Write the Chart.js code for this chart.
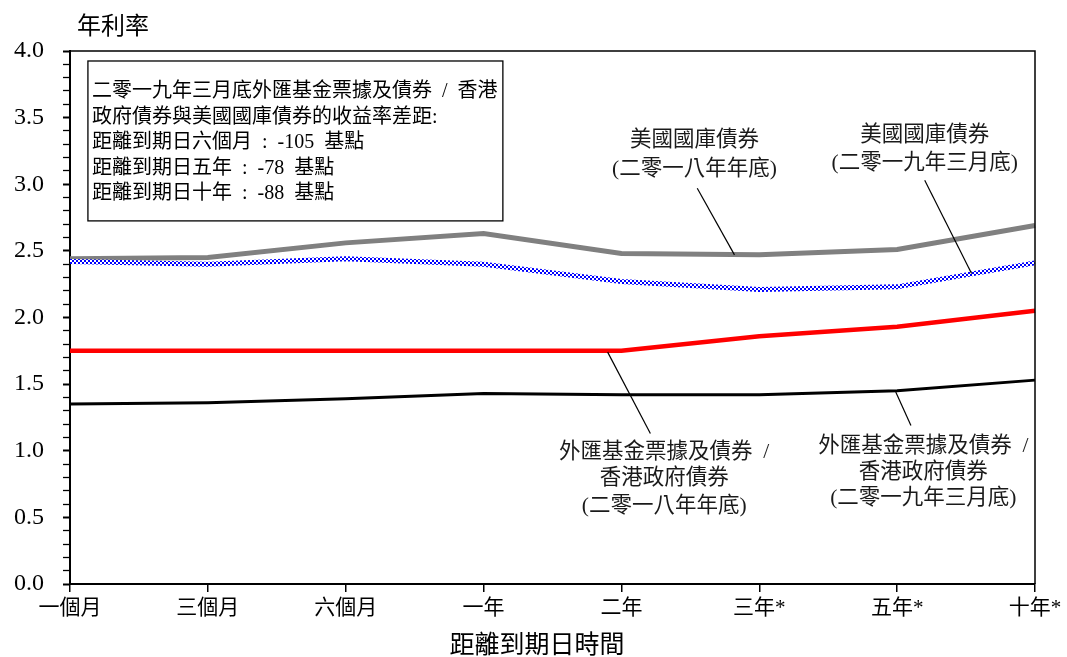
<!DOCTYPE html>
<html>
<head>
<meta charset="utf-8">
<script src="https://cdn.jsdelivr.net/npm/chart.js@4/dist/chart.umd.min.js"></script>
<style>
  html, body { margin: 0; padding: 0; background: #fff; }
  #wrap { width: 1067px; height: 657px; }
</style>
</head>
<body>
<div id="wrap"><canvas id="c" width="1067" height="657"></canvas></div>
<script>
// 距離到期日時間
const maturities = ['一個月', '三個月', '六個月', '一年', '二年', '三年*', '五年*', '十年*'];

// 年利率 (%)
const ust2018 = [2.44, 2.45, 2.56, 2.63, 2.48, 2.47, 2.51, 2.69];
const ust2019 = [2.42, 2.40, 2.44, 2.40, 2.27, 2.21, 2.23, 2.41];
const efb2018 = [1.75, 1.75, 1.75, 1.75, 1.75, 1.86, 1.93, 2.05];
const efb2019 = [1.35, 1.36, 1.39, 1.43, 1.42, 1.42, 1.45, 1.53];

const boxLines = [
  '二零一九年三月底外匯基金票據及債券  /  香港',
  '政府債券與美國國庫債券的收益率差距:',
  '距離到期日六個月  :  -105  基點',
  '距離到期日五年  :  -78  基點',
  '距離到期日十年  :  -88  基點',
];

const FONT = '"Liberation Serif", "Noto Sans CJK TC", serif';

// 藍白格子線 (美國國庫債券 二零一九年三月底)
function checker() {
  const c = document.createElement('canvas');
  c.width = 4; c.height = 4;
  const g = c.getContext('2d');
  g.fillStyle = '#fff'; g.fillRect(0, 0, 4, 4);
  g.fillStyle = '#0000ff';
  g.fillRect(0, 0, 2, 2); g.fillRect(2, 2, 2, 2);
  return g.createPattern(c, 'repeat');
}

// 標註: 文字位置及引線, 以 (類別索引, 數值) 表示
const notes = [
  { x: 4.53, lines: [['美國國庫債券', 3.33], ['(二零一八年年底)', 3.11]], from: [4.55, 2.97], to: [4.82, 2.47] },
  { x: 6.20, lines: [['美國國庫債券', 3.37], ['(二零一九年三月底)', 3.16]], from: [6.20, 3.03], to: [6.54, 2.33] },
  { x: 4.31, lines: [['外匯基金票據及債券  /', 0.99], ['香港政府債券', 0.795], ['(二零一八年年底)', 0.585]], from: [3.90, 1.74], to: [4.21, 1.13] },
  { x: 6.19, lines: [['外匯基金票據及債券  /', 1.03], ['香港政府債券', 0.835], ['(二零一九年三月底)', 0.64]], from: [5.99, 1.44], to: [6.10, 1.19] },
];

const decor = {
  id: 'decor',
  afterDatasetsDraw(chart) {
    const { ctx, chartArea: a, scales: { x, y } } = chart;
    const px = (i, v) => [x.getPixelForValue(i), y.getPixelForValue(v)];
    ctx.save();
    // 上框及右框
    ctx.strokeStyle = '#000';
    ctx.lineWidth = 1.5;
    ctx.beginPath();
    ctx.moveTo(a.left, a.top); ctx.lineTo(a.right, a.top); ctx.lineTo(a.right, a.bottom);
    ctx.stroke();

    // 說明框
    const [bx0, by0] = px(0.13, 3.925);
    const [bx1, by1] = px(3.14, 2.725);
    ctx.lineWidth = 1.3;
    ctx.strokeRect(bx0, by0, bx1 - bx0, by1 - by0);
    ctx.fillStyle = '#000';
    ctx.font = '20px ' + FONT;
    ctx.textAlign = 'left';
    ctx.textBaseline = 'middle';
    boxLines.forEach((t, i) => ctx.fillText(t, bx0 + 4, by0 + 31 + i * 25.5));

    // 系列標註
    ctx.fillStyle = '#1a1a1a';
    ctx.font = '21.5px ' + FONT;
    ctx.textAlign = 'center';
    ctx.lineWidth = 1.2;
    notes.forEach(n => {
      n.lines.forEach(([t, v]) => {
        ctx.fillText(t, x.getPixelForValue(n.x), y.getPixelForValue(v));
      });
      const [x0, y0] = px(n.from[0], n.from[1]);
      const [x1, y1] = px(n.to[0], n.to[1]);
      ctx.beginPath(); ctx.moveTo(x0, y0); ctx.lineTo(x1, y1); ctx.stroke();
    });

    // 軸標題
    ctx.fillStyle = '#000';
    ctx.font = '24px ' + FONT;
    ctx.textAlign = 'left';
    ctx.fillText('年利率', 77, 28);
    ctx.font = '25px ' + FONT;
    ctx.textAlign = 'center';
    ctx.fillText('距離到期日時間', 537, 646);
    ctx.restore();
  }
};

new Chart(document.getElementById('c'), {
  type: 'line',
  data: {
    labels: maturities,
    datasets: [
      { label: '美國國庫債券 (二零一九年三月底)', data: ust2019, borderColor: checker(), borderWidth: 5 },
      { label: '美國國庫債券 (二零一八年年底)', data: ust2018, borderColor: '#808080', borderWidth: 5 },
      { label: '外匯基金票據及債券 / 香港政府債券 (二零一八年年底)', data: efb2018, borderColor: '#ff0000', borderWidth: 4.5 },
      { label: '外匯基金票據及債券 / 香港政府債券 (二零一九年三月底)', data: efb2019, borderColor: '#000', borderWidth: 3 },
    ],
  },
  options: {
    responsive: false,
    animation: false,
    layout: { padding: { top: 51, right: 32, left: 0, bottom: 0 } },
    elements: { point: { radius: 0, hoverRadius: 0 }, line: { tension: 0, borderCapStyle: 'butt' } },
    plugins: { legend: { display: false }, tooltip: { enabled: false } },
    scales: {
      x: {
        type: 'category',
        offset: false,
        grid: { display: true, drawOnChartArea: false, offset: false, tickLength: 8, color: '#000', lineWidth: 1.5 },
        border: { display: true, color: '#000', width: 2 },
        ticks: { color: '#000', font: { family: FONT, size: 21 }, padding: 4, maxRotation: 0, autoSkip: false },
        afterFit: s => { s.height = 73; },
      },
      y: {
        min: 0, max: 4,
        grid: {
          display: true, drawOnChartArea: false, tickLength: 7, color: '#000',
          tickWidth: c => (Math.round(c.tick.value * 10) % 5 === 0 ? 2 : 1.3),
        },
        border: { display: true, color: '#000', width: 2 },
        ticks: {
          stepSize: 0.1, autoSkip: false, color: '#000', padding: 19,
          font: { family: FONT, size: 24 },
          callback: v => (Math.round(v * 10) % 5 === 0 ? v.toFixed(1) : ''),
        },
        afterFit: s => { s.width = 70; },
      },
    },
  },
  plugins: [decor],
});
</script>
</body>
</html>
